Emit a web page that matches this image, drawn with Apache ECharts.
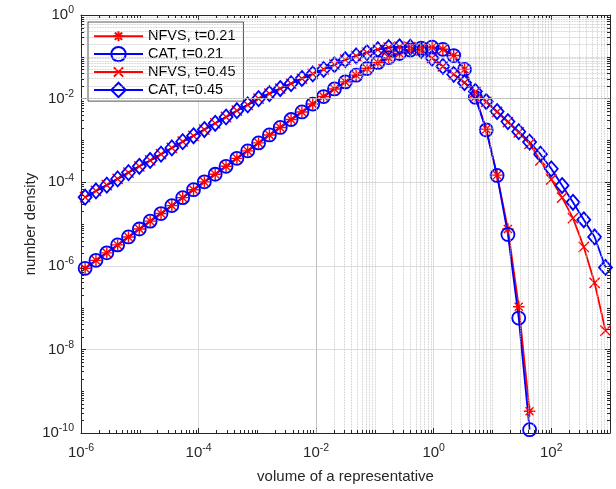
<!DOCTYPE html>
<html><head><meta charset="utf-8">
<script src="https://cdn.jsdelivr.net/npm/echarts@6/dist/echarts.min.js"></script>
<style>html,body{margin:0;padding:0;background:#fff}#c{width:616px;height:489px}</style>
</head><body><div id="c"></div>
<script>
// ---- data ----
const volume = [1.175e-6,1.797e-6,2.747e-6,4.201e-6,6.424e-6,9.823e-6,1.502e-5,2.297e-5,3.512e-5,5.370e-5,
  8.211e-5,1.256e-4,1.920e-4,2.936e-4,4.489e-4,6.864e-4,1.050e-3,1.605e-3,2.454e-3,3.753e-3,
  5.738e-3,8.775e-3,1.342e-2,2.052e-2,3.137e-2,4.797e-2,7.335e-2,0.1122,0.1715,0.2623,
  0.4010,0.6132,0.9376,1.434,2.192,3.352,5.126,7.838,11.99,18.33,
  28.02,42.85,65.53,100.2,153.2,234.3,358.2,547.8,837.6];
const nfvs021 = [8.71e-7,1.35e-6,2.04e-6,3.16e-6,4.90e-6,7.59e-6,1.17e-5,1.78e-5,2.75e-5,4.27e-5,
  6.61e-5,1.02e-4,1.55e-4,2.40e-4,3.72e-4,5.62e-4,8.71e-4,1.35e-3,2.04e-3,3.16e-3,
  4.79e-3,7.41e-3,1.12e-2,1.70e-2,2.51e-2,3.63e-2,5.25e-2,7.24e-2,9.55e-2,0.120,
  0.145,0.162,0.170,0.151,0.107,5.01e-2,1.10e-2,1.86e-3,1.48e-4,7.59e-6,
  1.05e-7,3.31e-10];
const cat021 = [8.71e-7,1.35e-6,2.04e-6,3.16e-6,4.90e-6,7.59e-6,1.17e-5,1.78e-5,2.75e-5,4.27e-5,
  6.61e-5,1.02e-4,1.55e-4,2.40e-4,3.72e-4,5.62e-4,8.71e-4,1.35e-3,2.04e-3,3.16e-3,
  4.79e-3,7.41e-3,1.12e-2,1.70e-2,2.51e-2,3.63e-2,5.25e-2,7.24e-2,9.55e-2,0.120,
  0.145,0.162,0.170,0.151,0.107,5.01e-2,1.07e-2,1.78e-3,1.45e-4,5.62e-6,
  5.62e-8,1.20e-10];
const nfvs045 = [4.37e-5,6.17e-5,8.51e-5,1.20e-4,1.70e-4,2.40e-4,3.31e-4,4.68e-4,6.61e-4,9.33e-4,
  1.29e-3,1.82e-3,2.57e-3,3.63e-3,5.13e-3,7.08e-3,1.00e-2,1.32e-2,1.74e-2,2.29e-2,
  3.02e-2,3.89e-2,5.01e-2,6.46e-2,8.51e-2,0.105,0.126,0.148,0.166,0.174,
  0.170,0.141,9.33e-2,5.89e-2,3.80e-2,2.40e-2,1.45e-2,8.32e-3,4.79e-3,2.75e-3,
  1.55e-3,8.32e-4,3.31e-4,1.17e-4,4.27e-5,1.38e-5,2.82e-6,3.89e-7,2.82e-8];
const cat045 = [4.37e-5,6.17e-5,8.51e-5,1.20e-4,1.70e-4,2.40e-4,3.31e-4,4.68e-4,6.61e-4,9.33e-4,
  1.29e-3,1.82e-3,2.57e-3,3.63e-3,5.13e-3,7.08e-3,1.00e-2,1.32e-2,1.74e-2,2.29e-2,
  3.02e-2,3.89e-2,5.01e-2,6.46e-2,8.51e-2,0.105,0.126,0.148,0.166,0.174,
  0.170,0.141,9.33e-2,5.89e-2,3.80e-2,2.40e-2,1.48e-2,8.51e-3,4.90e-3,2.82e-3,
  1.62e-3,9.12e-4,4.68e-4,2.09e-4,8.32e-5,3.31e-5,1.26e-5,4.90e-6,9.12e-7];
const seriesNames = ['NFVS, t=0.21','CAT, t=0.21','NFVS, t=0.45','CAT, t=0.45'];
const xTickExponents = [-6,-4,-2,0,2];
const yTickExponents = [-10,-8,-6,-4,-2,0];
const xTitle = 'volume of a representative';
const yTitle = 'number density';

// ---- chart ----
const FONT = 'Liberation Sans';
const AX = '#262626';
const RED = '#ff0000', BLUE = '#0000ff';
const chart = echarts.init(document.getElementById('c'), null, {renderer:'canvas'});
const pairs = ys => ys.map((y,i)=>[volume[i], y]);
const fmt = exps => v => { const e = Math.round(Math.log10(v)); return exps.indexOf(e) >= 0 ? '{b|10}{s|' + e + '}' : ''; };
const rich = { b:{fontFamily:FONT,fontSize:15,color:AX}, s:{fontFamily:FONT,fontSize:10.5,color:AX,padding:[0,0,9,0]} };

// marker paths: zero-length corner segments only set the box, spokes are what is stroked
const box = 'M-14,-14L-14,-14M14,14L14,14';
const asterisk = 'path://' + box + 'M0,-10L0,10M-10,0L10,0M-7.07,-7.07L7.07,7.07M-7.07,7.07L7.07,-7.07';
const cross = 'path://' + box + 'M-9,-9L9,9M-9,9L9,-9';

// minor grid positions (2..9 x 10^n and unlabelled decades)
const minorVals = (lo, hi, labelled) => { const out=[]; for (let d=lo; d<hi; d++){ if (labelled.indexOf(d)<0 && d!==lo) out.push(Math.pow(10,d)); for (let m=2;m<=9;m++) out.push(m*Math.pow(10,d)); } return out; };
const minorX = minorVals(-6, 3, xTickExponents);
const minorY = minorVals(-10, 0, yTickExponents);

const baseAxis = (min, max) => ({
  type:'log', logBase:100, min, max,
  axisLine:{show:true, lineStyle:{color:AX, width:1}},
  axisTick:{show:true, inside:true, length:5, lineStyle:{color:AX}},
  splitLine:{show:false}, minorTick:{show:false},
  axisLabel:{show:false}
});
const xAxisMain = Object.assign(baseAxis(1e-6, 1e3), {
  position:'bottom',
  splitLine:{show:true, lineStyle:{color:'#dcdcdc', width:1, type:'solid'}},
  axisLabel:{show:true, formatter:fmt(xTickExponents), rich, margin:10},
  name:xTitle, nameLocation:'middle', nameGap:36, nameMoveOverlap:false,
  nameTextStyle:{fontFamily:FONT, fontSize:15, color:AX}
});
const yAxisMain = Object.assign(baseAxis(1e-10, 1), {
  position:'left',
  splitLine:{show:true, lineStyle:{color:'#dcdcdc', width:1, type:'solid'}},
  axisLabel:{show:true, formatter:fmt(yTickExponents), rich, margin:7},
  name:yTitle, nameLocation:'middle', nameGap:43, nameMoveOverlap:false,
  nameTextStyle:{fontFamily:FONT, fontSize:15, color:AX}
});
const xAxisTop = Object.assign(baseAxis(1e-6, 1e3), {position:'top'});
const yAxisRight = Object.assign(baseAxis(1e-10, 1), {position:'right'});

const mk = (name, data, color, symbol, size, filled) => ({
  name, type:'line', data:pairs(data), xAxisIndex:0, yAxisIndex:0,
  symbol, symbolSize:size, showAllSymbol:true, showSymbol:true,
  lineStyle:{color, width:1.8, type:'solid'},
  itemStyle:{color: filled ? color : 'rgba(0,0,0,0)', borderColor:color, borderWidth: filled ? 1.4 : 1.8, borderType:'solid'},
  emphasis:{disabled:true}, animation:false, z:3
});

chart.setOption({
  animation:false,
  backgroundColor:'#fff',
  grid:{left:81, right:6, top:15, bottom:56, containLabel:false},
  xAxis:[xAxisMain, xAxisTop],
  yAxis:[yAxisMain, yAxisRight],
  legend:{
    data:seriesNames, orient:'vertical', left:88, top:22,
    itemWidth:49, itemHeight:18, itemGap:1.5,
    padding:[6,8,3,5], backgroundColor:'#fff', borderColor:AX, borderWidth:0.8,
    textStyle:{fontFamily:FONT, fontSize:14.5, color:'#000'},
    selectedMode:false
  },
  series:[
    { name:'minorgrid', type:'line', data:[[1e-6,1e-10]], showSymbol:false, silent:true, z:1,
      lineStyle:{width:0}, animation:false,
      markLine:{ silent:true, symbol:['none','none'], label:{show:false}, animation:false,
        lineStyle:{color:'#bdbdbd', type:'dotted', width:0.8},
        emphasis:{disabled:true},
        data: minorX.map(v=>({xAxis:v})).concat(minorY.map(v=>({yAxis:v}))) } },
    mk(seriesNames[0], nfvs021, RED, asterisk, 16, true),
    mk(seriesNames[1], cat021, BLUE, 'circle', 13, false),
    mk(seriesNames[2], nfvs045, RED, cross, 16, true),
    mk(seriesNames[3], cat045, BLUE, 'diamond', [13,15], false)
  ]
});

// minor ticks on all four sides via the axes' own scales
const px = v => chart.convertToPixel({xAxisIndex:0}, v);
const py = v => chart.convertToPixel({yAxisIndex:0}, v);
const L = px(1e-6), R = px(1e3), T = py(1), B = py(1e-10);
const g = [];
const tl = (x1,y1,x2,y2) => g.push({type:'line', silent:true, z:10, shape:{x1,y1,x2,y2}, style:{stroke:AX, lineWidth:1}});
minorX.forEach(v => { const x = Math.round(px(v)) + 0.5; tl(x, B, x, B-3); tl(x, T, x, T+3); });
minorY.forEach(v => { const y = Math.round(py(v)) + 0.5; tl(L, y, L+3, y); tl(R, y, R-3, y); });
chart.setOption({graphic:g});
</script></body></html>
